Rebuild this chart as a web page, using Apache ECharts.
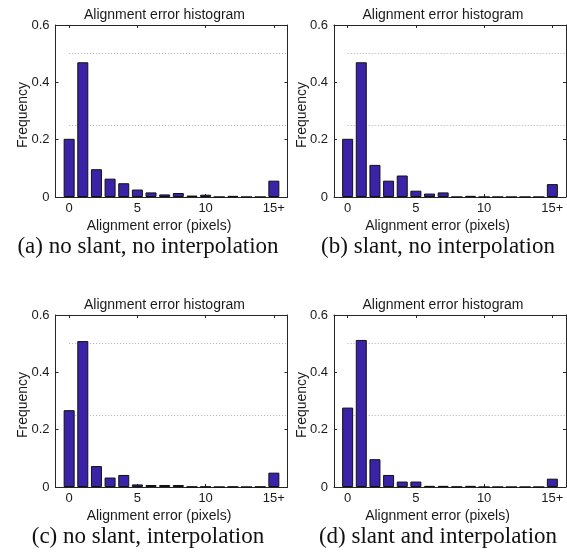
<!DOCTYPE html>
<html>
<head>
<meta charset="utf-8">
<script src="https://cdn.jsdelivr.net/npm/echarts@6/dist/echarts.min.js"></script>
<style>
html,body{margin:0;padding:0;background:#fff;}
#chart{width:567px;height:558px;}
</style>
</head>
<body>
<div id="chart"></div>
<script>
// ---- data ----
var bins = [0,1,2,3,4,5,6,7,8,9,10,11,12,13,14,15];
var xTickValues = [0,5,10,15];
var xTickLabels = ['0','5','10','15+'];
var yTickLabels = ['0','0.2','0.4','0.6'];
var refLevels = [0.25, 0.5];

var freqNoSlantNoInterp = [0.203,0.470,0.097,0.064,0.048,0.026,0.016,0.009,0.014,0.005,0.008,0,0.004,0,0,0.057];
var freqSlantNoInterp   = [0.203,0.470,0.112,0.057,0.075,0.022,0.012,0.016,0,0.004,0,0,0,0,0,0.045];
var freqNoSlantInterp   = [0.268,0.509,0.073,0.033,0.042,0.009,0.007,0.007,0.007,0.001,0.001,0,0.001,0,0.001,0.050];
var freqSlantInterp     = [0.277,0.513,0.097,0.042,0.019,0.019,0.004,0.004,0.001,0.004,0,0,0,0,0,0.029];

var panelTitle = 'Alignment error histogram';
var xName = 'Alignment error (pixels)';
var yName = 'Frequency';
var captions = ['(a) no slant, no interpolation','(b) slant, no interpolation','(c) no slant, interpolation','(d) slant and interpolation'];
var panelData = [freqNoSlantNoInterp, freqSlantNoInterp, freqNoSlantInterp, freqSlantInterp];

// ---- layout ----
var gridPos = [
  {left:55.5, top:25, width:232, height:172},
  {left:334, top:25, width:232, height:172},
  {left:55.5, top:315, width:232, height:172},
  {left:334, top:315, width:232, height:172}
];
var captionPos = [[148,247],[438,247],[148,537],[438,537]];

var sans = 'Liberation Sans, Arial, sans-serif';
var txt = '#1a1a1a';
var lineCol = '#262626';

var grids=[], xAxes=[], yAxes=[], series=[], titles=[], graphics=[];
panelData.forEach(function(vals, i){
  var g = gridPos[i];
  grids.push({left:g.left, top:g.top, width:g.width, height:g.height, containLabel:false});
  var xCommon = {
    type:'value', gridIndex:i, min:-1, max:16,
    splitLine:{show:false},
    axisLine:{show:true, onZero:false, lineStyle:{color:lineCol, width:1}},
    axisTick:{show:true, inside:true, length:3, customValues:xTickValues, lineStyle:{color:lineCol}}
  };
  xAxes.push(Object.assign({}, xCommon, {
    position:'bottom',
    axisLabel:{show:true, customValues:xTickValues, margin:5, color:txt, fontSize:13, fontFamily:sans,
      formatter:function(v){ var k = xTickValues.indexOf(v); return k>=0 ? xTickLabels[k] : ''; }},
    name:xName, nameLocation:'middle', nameGap:22, nameMoveOverlap:false,
    nameTextStyle:{color:txt, fontSize:14, fontFamily:sans, padding:[0,25,0,0]}
  }));
  xAxes.push(Object.assign({}, xCommon, {position:'top', axisLabel:{show:false}}));
  var yCommon = {
    type:'value', gridIndex:i, min:0, max:0.6, interval:0.2,
    splitLine:{show:false},
    axisLine:{show:true, onZero:false, lineStyle:{color:lineCol, width:1}},
    axisTick:{show:true, inside:true, length:3, lineStyle:{color:lineCol}}
  };
  yAxes.push(Object.assign({}, yCommon, {
    position:'left',
    axisLabel:{show:true, margin:6, color:txt, fontSize:13, fontFamily:sans,
      formatter:function(v){ return yTickLabels[Math.round(v/0.2)]; }},
    name:yName, nameLocation:'middle', nameGap:25, nameMoveOverlap:false,
    nameTextStyle:{color:txt, fontSize:14, fontFamily:sans, padding:[0,0,0,-8]}
  }));
  yAxes.push(Object.assign({}, yCommon, {position:'right', axisLabel:{show:false}}));

  series.push({
    type:'bar', xAxisIndex:2*i, yAxisIndex:2*i, z:3,
    data: bins.map(function(b,k){ return [b, vals[k]]; }),
    barWidth:11,
    itemStyle:{color:'#3a23a6', borderColor:'#111', borderWidth:1},
    markLine:{
      silent:true, symbol:['none','none'], z:1,
      label:{show:false},
      lineStyle:{color:'#b0b0b0', type:[1,2], width:1},
      data: refLevels.map(function(r){ return [{coord:[0,r]},{coord:[16,r]}]; })
    }
  });
  titles.push({
    text:panelTitle, left:g.left+104, top:g.top-22, textAlign:'center',
    textStyle:{color:txt, fontSize:14, fontWeight:'normal', fontFamily:sans}
  });
  graphics.push({
    type:'text', x:captionPos[i][0], y:captionPos[i][1],
    style:{text:captions[i], fill:'#111', font:'23px "Liberation Serif", "Times New Roman", serif',
      textAlign:'center', textVerticalAlign:'middle'}
  });
});

var chart = echarts.init(document.getElementById('chart'), null, {renderer:'canvas'});
chart.setOption({
  animation:false,
  backgroundColor:'#fff',
  title:titles,
  grid:grids, xAxis:xAxes, yAxis:yAxes, series:series,
  graphic:graphics
});
</script>
</body>
</html>
